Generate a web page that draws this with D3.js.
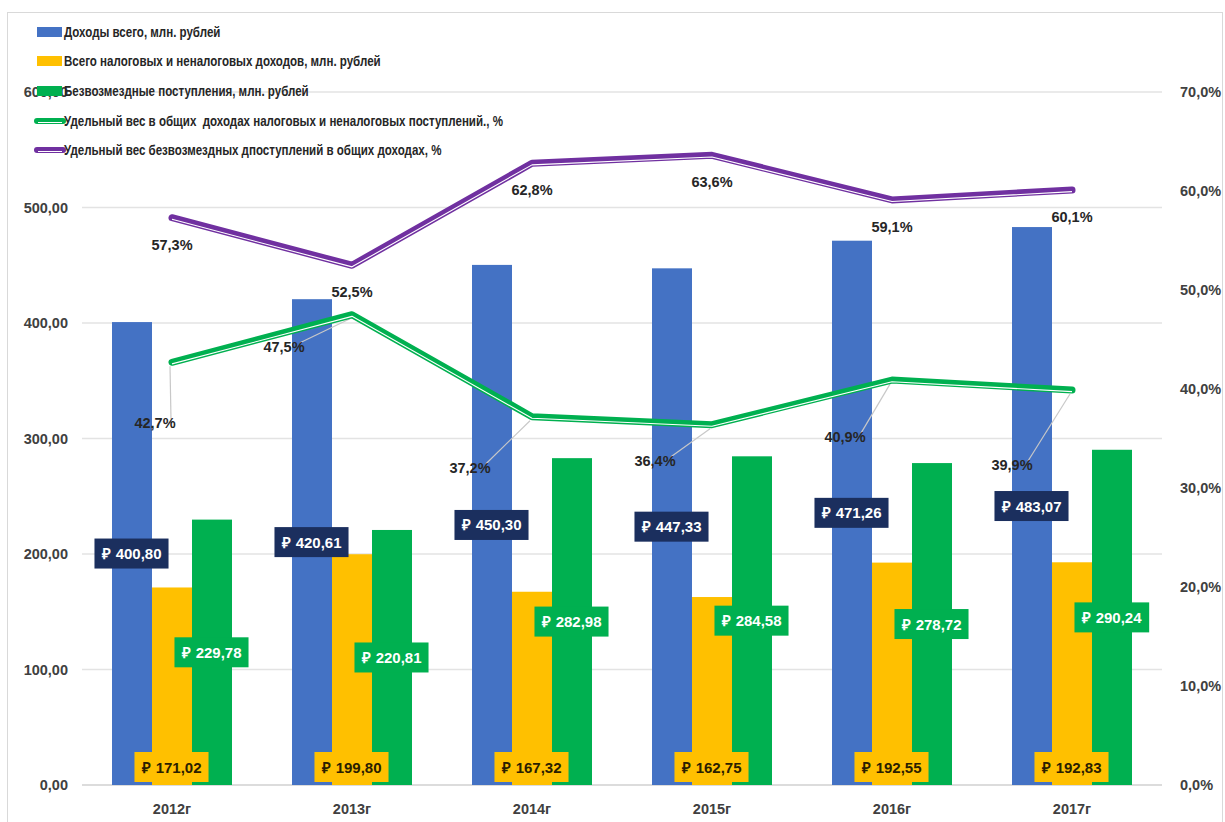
<!DOCTYPE html>
<html><head><meta charset="utf-8">
<script src="https://cdn.jsdelivr.net/npm/d3@7"></script>
<style>
body{margin:0;background:#fff;}
svg text{font-family:"Liberation Sans",Arial,sans-serif;font-weight:bold;}
.leg{white-space:pre;}
</style>
</head><body>
<svg id="c" width="1225" height="822"></svg>
<script>
// ---- data ----
const years = ["2012г","2013г","2014г","2015г","2016г","2017г"];
const seriesNames = [
  "Доходы всего, млн. рублей",
  "Всего налоговых и неналоговых доходов, млн. рублей",
  "Безвозмездные поступления, млн. рублей",
  "Удельный вес в общих  доходах налоговых и неналоговых поступлений., %",
  "Удельный вес безвозмездных дпоступлений в общих доходах, %"
];
const totalIncome = [400.80, 420.61, 450.30, 447.33, 471.26, 483.07];
const taxIncome = [171.02, 199.80, 167.32, 162.75, 192.55, 192.83];
const grants = [229.78, 220.81, 282.98, 284.58, 278.72, 290.24];
const taxShare = [0.427, 0.475, 0.372, 0.364, 0.409, 0.399];
const grantShare = [0.573, 0.525, 0.628, 0.636, 0.591, 0.601];
const leftTicks = [0,100,200,300,400,500,600];
const rightTicks = [0,0.1,0.2,0.3,0.4,0.5,0.6,0.7];
// label nudges for the green-line labels (dx, dy in px)
const taxLabelOffsets = [[-17,61],[-68,32],[-62,51],[-57,36],[-47,57],[-60,75]];

// ---- setup ----
const svg = d3.select("#c");
const colors = {blue:"#4472C4", yellow:"#FFC000", green:"#00B050", purple:"#7030A0", navy:"#1B2F5E"};
const loc = d3.formatLocale({decimal:",", thousands:" ", grouping:[3], currency:["₽ ",""]});
const fL = loc.format(".2f"), fR = loc.format(".1%"), fMoney = v => "₽ " + loc.format(".2f")(v);

const yL = d3.scaleLinear().domain([0,600]).range([785,92]);
const yR = d3.scaleLinear().domain([0,0.7]).range([785,92]);
const x0 = d3.scaleBand().domain(years).range([82,1162]).paddingInner(1/3).paddingOuter(1/6);
const x1 = d3.scaleBand().domain([0,1,2]).range([0,x0.bandwidth()]);
const cx = y => x0(y) + x0.bandwidth()/2;

// border
svg.append("rect").attr("x",7.5).attr("y",12.5).attr("width",1215).attr("height",812)
  .attr("fill","none").attr("stroke","#d9d9d9");

// gridlines
svg.append("g").selectAll("line").data(leftTicks).join("line")
  .attr("x1",82).attr("x2",1162).attr("y1",d=>yL(d)).attr("y2",d=>yL(d))
  .attr("stroke",(d)=> d===0 ? "#d0d0d0" : "#e3e3e3").attr("stroke-width",1.5);

// left axis
const axL = svg.append("g").attr("transform","translate(68,0)")
  .call(d3.axisLeft(yL).tickValues(leftTicks).tickFormat(fL).tickSize(0).tickPadding(0));
axL.select(".domain").remove();
axL.selectAll("text").attr("font-size",14.5).attr("fill","#404040").attr("font-family",null);

// right axis
const axR = svg.append("g").attr("transform","translate(1180,0)")
  .call(d3.axisRight(yR).tickValues(rightTicks).tickFormat(fR).tickSize(0).tickPadding(0));
axR.select(".domain").remove();
axR.selectAll("text").attr("font-size",14.5).attr("fill","#404040").attr("font-family",null);

// x axis
const axX = svg.append("g").attr("transform","translate(0,800)")
  .call(d3.axisBottom(x0).tickSize(0).tickPadding(4));
axX.select(".domain").remove();
axX.selectAll("text").attr("font-size",14.5).attr("fill","#404040").attr("font-family",null);

// bars
const barSets = [totalIncome, taxIncome, grants];
const barColors = [colors.blue, colors.yellow, colors.green];
barSets.forEach((vals,i)=>{
  svg.append("g").selectAll("rect").data(vals).join("rect")
    .attr("x",(d,j)=>x0(years[j])+x1(i)).attr("width",x1.bandwidth())
    .attr("y",d=>yL(d)).attr("height",d=>yL(0)-yL(d)).attr("fill",barColors[i]);
});

// compound line helper
function compoundLine(vals,color){
  const line = d3.line().x((d,j)=>cx(years[j])).y(d=>yR(d));
  const g = svg.append("g");
  g.append("path").attr("d",line(vals)).attr("fill","none").attr("stroke",color)
    .attr("stroke-width",7).attr("stroke-linejoin","round").attr("stroke-linecap","round");
  g.append("path").attr("d",line(vals)).attr("fill","none").attr("stroke","#ffffff")
    .attr("stroke-width",1.1).attr("transform","translate(0,1.6)").attr("stroke-linejoin","round");
}

// leader lines for tax share labels
svg.append("g").selectAll("line").data(taxShare).join("line")
  .attr("x1",(d,j)=>cx(years[j])-2).attr("y1",d=>yR(d)+4)
  .attr("x2",(d,j)=>cx(years[j])+taxLabelOffsets[j][0]+16).attr("y2",(d,j)=>yR(d)+taxLabelOffsets[j][1]-4)
  .attr("stroke","#c8c8c8").attr("stroke-width",1.2);

compoundLine(taxShare, colors.green);
compoundLine(grantShare, colors.purple);

// bar labels
function boxLabel(vals, seriesIdx, yPos, bg, fg){
  const g = svg.append("g");
  vals.forEach((v,j)=>{
    const x = x0(years[j]) + x1(seriesIdx) + x1.bandwidth()/2;
    const y = yPos(v);
    const t = g.append("text").attr("x",x).attr("y",y).attr("text-anchor","middle")
      .attr("dominant-baseline","central").attr("font-size",15).attr("fill",fg).text(fMoney(v));
    const bb = t.node().getBBox();
    g.insert("rect","text").attr("x",bb.x-7).attr("y",y-15).attr("width",bb.width+14).attr("height",30).attr("fill",bg);
  });
}
boxLabel(totalIncome,0,v=>yL(v/2),colors.navy,"#ffffff");
boxLabel(grants,2,v=>yL(v/2),colors.green,"#ffffff");
boxLabel(taxIncome,1,v=>yL(0)-18,colors.yellow,"#2a2000");

// line labels
svg.append("g").selectAll("text").data(grantShare).join("text")
  .attr("x",(d,j)=>cx(years[j])).attr("y",d=>yR(d)+27).attr("text-anchor","middle")
  .attr("dominant-baseline","central").attr("font-size",14.5).attr("fill","#262626").text(d=>fR(d));
svg.append("g").selectAll("text").data(taxShare).join("text")
  .attr("x",(d,j)=>cx(years[j])+taxLabelOffsets[j][0]).attr("y",(d,j)=>yR(d)+taxLabelOffsets[j][1])
  .attr("text-anchor","middle").attr("dominant-baseline","central").attr("font-size",14.5)
  .attr("fill","#262626").text(d=>fR(d));

// legend
const legY = [32,61,91,121,150];
const lg = svg.append("g");
seriesNames.forEach((name,i)=>{
  const y = legY[i];
  if(i<3){
    lg.append("rect").attr("x",37).attr("y",y-5).attr("width",25).attr("height",10).attr("fill",barColors[i]);
  } else {
    const c = i===3 ? colors.green : colors.purple;
    lg.append("line").attr("x1",37).attr("x2",63).attr("y1",y).attr("y2",y).attr("stroke",c).attr("stroke-width",6).attr("stroke-linecap","round");
    lg.append("line").attr("x1",38).attr("x2",62).attr("y1",y+1.5).attr("y2",y+1.5).attr("stroke","#fff").attr("stroke-width",1);
  }
  lg.append("text").attr("class","leg").attr("transform",`translate(64,${y}) scale(0.77,1)`)
    .attr("dominant-baseline","central").attr("font-size",15).attr("fill","#262626").text(name);
});
</script>
</body></html>
